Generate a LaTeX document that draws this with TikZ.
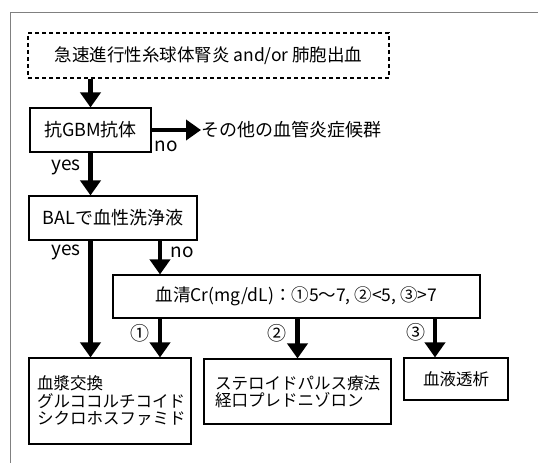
\documentclass[tikz,border=0pt]{standalone}
\usepackage{fontspec}
\newfontfamily\jp{Noto Sans CJK JP}
\usetikzlibrary{arrows.meta}
\begin{document}
\begin{tikzpicture}[x=1pt,y=-1pt,
  box/.style={draw, line width=1.1pt, inner sep=0pt, font=\jp\fontsize{18}{20}\selectfont},
  lowbox/.style={draw, line width=1.1pt, align=left, font=\jp\fontsize{16.5}{17.5}\selectfont},
  arr/.style={line width=4.5pt, -{Triangle[width=20pt,length=15pt]}},
  lbl/.style={font=\jp\fontsize{19}{20}\selectfont, inner sep=0pt}]
\useasboundingbox (0,0) rectangle (538,463);
\draw[gray, line width=1pt] (538,12) -- (10,12) -- (10,463);

\node[box, font=\jp\fontsize{17.5}{20}\selectfont, dashed, dash pattern=on 4pt off 3pt, minimum width=361pt, minimum height=45pt] (top) at (208.5,55.5) {急速進行性糸球体腎炎 and/or 肺胞出血};
\node[box, minimum width=121pt, minimum height=44pt] (gbm) at (90.5,130) {抗GBM抗体};
\node[lbl, anchor=west, font=\jp\fontsize{18}{20}\selectfont] (other) at (201,130) {その他の血管炎症候群};
\node[box, minimum width=168pt, minimum height=44pt] (bal) at (113,218) {BALで血性洗浄液};
\node[box, font=\jp\fontsize{17.5}{20}\selectfont, minimum width=367pt, minimum height=43pt] (cr) at (296.5,296.5) {血清Cr(mg/dL)：①5～7, ②<5, ③>7};
\node[lowbox, text width=146pt, inner sep=8pt, minimum height=86pt] (a) at (110,401) {血漿交換\\グルココルチコイド\\シクロホスファミド};
\node[lowbox, text width=165pt, inner sep=11pt, minimum height=65pt] (b) at (297.5,391.5) {ステロイドパルス療法\\経口プレドニゾロン};
\node[box, font=\jp\fontsize{16.5}{17.5}\selectfont, minimum width=104pt, minimum height=42pt] (c) at (456,379) {血液透析};

\coordinate (x1) at (160,0);
\coordinate (x3) at (435,0);

\draw[arr] (gbm.north |- top.south) -- (gbm.north);
\draw[arr] (gbm.south) -- (gbm.south |- bal.north);
\draw[arr] (gbm.east) -- (other.west);
\draw[arr] (bal.south -| gbm.south) -- (gbm.south |- a.north);
\draw[arr] (bal.south -| x1) -- (x1 |- cr.north);
\draw[arr] (cr.south -| x1) -- (x1 |- a.north);
\draw[arr] (cr.south -| b.north) -- (b.north);
\draw[arr] (cr.south -| x3) -- (x3 |- c.north);

\node[lbl] (no1) at (166,146) {no};
\node[lbl] (yes1) at (66,167) {yes};
\node[lbl] (yes2) at (66,252) {yes};
\node[lbl] (no2) at (182,252) {no};
\node[lbl] (n1) at (140,333) {①};
\node[lbl] (n2) at (277,333) {②};
\node[lbl] (n3) at (416,332) {③};
\end{tikzpicture}
\end{document}
